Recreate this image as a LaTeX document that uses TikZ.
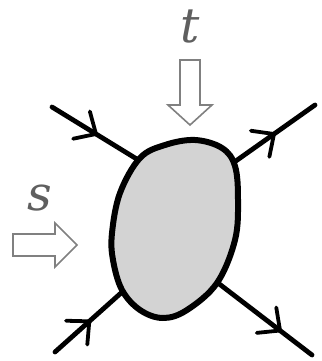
\documentclass[tikz,border=0pt]{standalone}
\usepackage{fontspec}
\usepackage{xcolor}
\usepackage{tikz}
\usetikzlibrary{decorations.markings,calc}
\newfontfamily\labelfont{DejaVu Serif}
\definecolor{blobgray}{RGB}{211,211,211}
\definecolor{pushgray}{RGB}{128,128,128}
\definecolor{labelgray}{RGB}{95,95,95}
\tikzset{
  blob/.style={draw=black, line width=6pt, fill=blobgray, line join=round},
  leg/.style={line width=4.8pt, line cap=round, postaction={decorate},
    decoration={markings, mark=at position #1 with {\draw[line width=3.8pt, line cap=round, line join=round] (-17pt,16pt) -- (0pt,0pt) -- (-17pt,-16pt);}}},
  leg/.default=0.5,
  pusharrow/.style={draw=pushgray, line width=1.6pt, fill=white, line join=miter},
  flowlabel/.style={text=labelgray, font=\labelfont\fontsize{48}{48}\selectfont\itshape, inner sep=0pt, anchor=base}
}

\begin{document}
\begin{tikzpicture}[x=1pt, y=-1pt]
\useasboundingbox (0,0) rectangle (321,361);
% leg ends
\coordinate (ulOut) at (52,107);
\coordinate (ulIn) at (140,161);
\coordinate (urIn) at (233,163);
\coordinate (urOut) at (315,105);
\coordinate (llOut) at (55,352);
\coordinate (llIn) at (121,293);
\coordinate (lrIn) at (218,283);
\coordinate (lrOut) at (312,355);

\draw[leg] (ulOut) -- (ulIn);
\draw[leg] (urIn) -- (urOut);
\draw[leg=0.52] (llOut) -- (llIn);
\draw[leg=0.66] (lrIn) -- (lrOut);

% blob
\draw[blob] plot[smooth cycle, tension=0.6] coordinates {
  (140,158) (165,145) (195,140) (222,148) (235,166) (238,200) (235,240)
  (217,283) (187,310) (163,318) (140,310) (122,290) (113,260) (112,233)
  (120,193)};

% push arrows
\draw[pusharrow] (180,60) -- (200,60) -- (200,105) -- (212,105) -- (190,125)
  -- (168,105) -- (180,105) -- cycle;
\draw[pusharrow] (13,234) -- (55,234) -- (55,223) -- (77,245) -- (55,267)
  -- (55,256) -- (13,256) -- cycle;

\node[flowlabel] (tlabel) at (190,43) {t};
\node[flowlabel] (slabel) at (40,210) {s};
\end{tikzpicture}
\end{document}
